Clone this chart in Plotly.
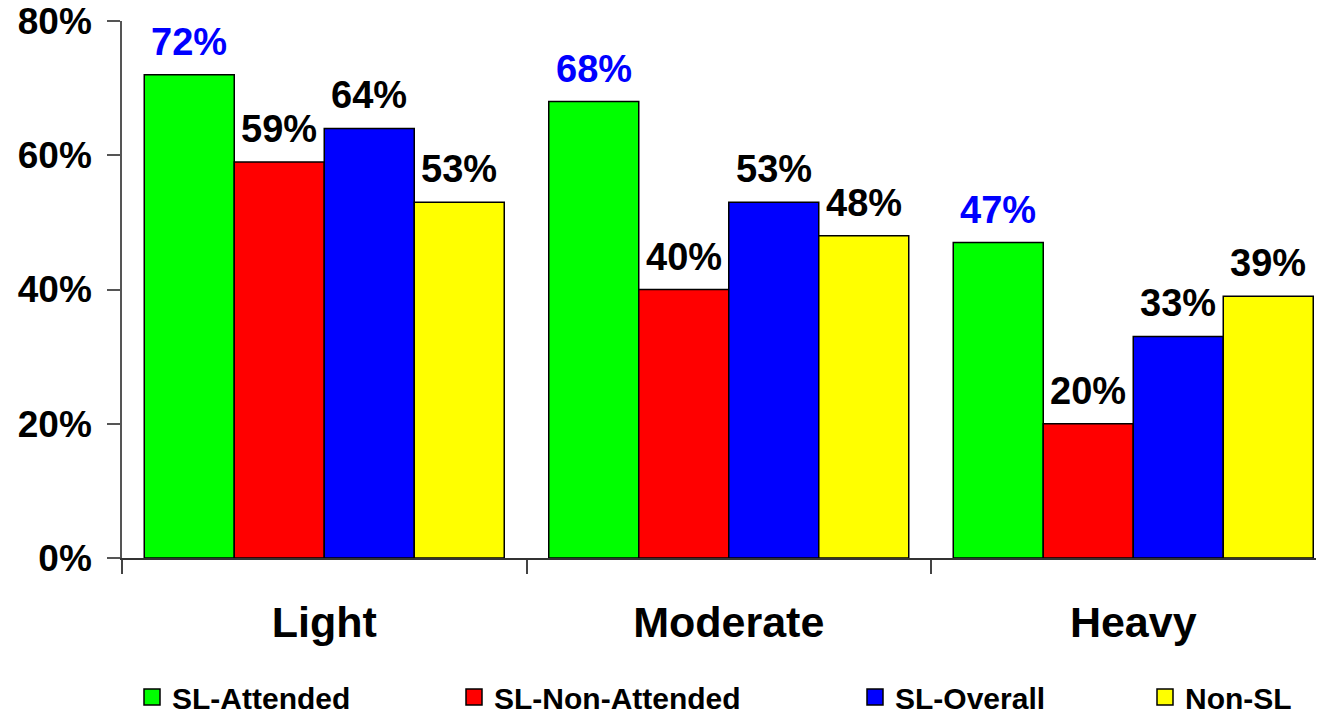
import plotly.graph_objects as go

categories = ["Light", "Moderate", "Heavy"]
series_names = ["SL-Attended", "SL-Non-Attended", "SL-Overall", "Non-SL"]
sl_attended = [72, 68, 47]
sl_non_attended = [59, 40, 20]
sl_overall = [64, 53, 33]
non_sl = [53, 48, 39]
y_tick_vals = [0, 20, 40, 60, 80]
y_tick_text = ["0%", "20%", "40%", "60%", "80%"]

series_values = [sl_attended, sl_non_attended, sl_overall, non_sl]
colors = ["#00FF00", "#FF0000", "#0000FF", "#FFFF00"]
label_colors = ["#0000FF", "#000000", "#000000", "#000000"]
legend_x_px = [140, 462, 863, 1153]

# page has an 8px body margin, so the figure is sized to fill the rest
PAGE_OFF = 8
W, H = 1324 - PAGE_OFF, 713 - PAGE_OFF
ML, MR, MT, MB = 122 - PAGE_OFF, 0, 21 - PAGE_OFF, 155
plot_w = W - ML - MR
plot_h = H - MT - MB
cat_px = 404.5
bargap = 0.11
FONT = "Liberation Sans, Arial, sans-serif"

fig = go.Figure()
n = len(series_names)
bar_w = (1 - bargap) / n
annotations = []
for k, (name, vals) in enumerate(zip(series_names, series_values)):
    fig.add_trace(go.Bar(
        x=categories, y=vals, name=name,
        marker=dict(color=colors[k], line=dict(color="#000000", width=1.5)),
        showlegend=False, hoverinfo="x+y",
    ))
    lg = "legend" if k == 0 else f"legend{k+1}"
    fig.add_trace(go.Scatter(
        x=[None], y=[None], mode="markers", name=name, legend=lg,
        marker=dict(symbol="square", size=20, color=colors[k],
                    line=dict(color="#000000", width=1.5)),
        showlegend=True,
    ))
    off = -(1 - bargap) / 2 + bar_w * (k + 0.5)
    for i, v in enumerate(vals):
        annotations.append(dict(
            x=i + off, y=v, xref="x", yref="y", text=f"{v}%",
            showarrow=False, yanchor="bottom", xanchor="center", yshift=10,
            font=dict(family=FONT, size=38, color=label_colors[k], weight="bold"),
        ))

layout_legends = {}
for k in range(n):
    key = "legend" if k == 0 else f"legend{k+1}"
    layout_legends[key] = dict(
        x=(legend_x_px[k] - 8 - PAGE_OFF - ML) / plot_w, xanchor="left",
        y=(MT + plot_h - (697 - PAGE_OFF)) / plot_h, yanchor="middle",
        orientation="h", bgcolor="rgba(0,0,0,0)", borderwidth=0,
        font=dict(family=FONT, size=30, color="#000000", weight="bold"),
        itemsizing="trace",
    )

fig.update_layout(
    width=W, height=H,
    margin=dict(l=ML, r=MR, t=MT, b=MB, autoexpand=False),
    paper_bgcolor="white", plot_bgcolor="white",
    barmode="group", bargap=bargap, bargroupgap=0,
    annotations=annotations,
    **layout_legends,
)
fig.update_xaxes(
    type="category", range=[-0.5, -0.5 + plot_w / cat_px],
    showgrid=False, zeroline=False,
    showline=True, linecolor="#333333", linewidth=1.5,
    ticks="outside", tickson="boundaries", ticklen=14, tickwidth=1.5, tickcolor="#444444",
    ticklabelstandoff=26,
    tickfont=dict(family=FONT, size=43, color="#000000", weight="bold"),
)
fig.update_yaxes(
    range=[0, 80], tickvals=y_tick_vals, ticktext=y_tick_text,
    showgrid=False, zeroline=False,
    showline=True, linecolor="#555555", linewidth=1.5,
    ticks="outside", ticklen=13, tickwidth=1.5, tickcolor="#555555",
    ticklabelstandoff=8, ticklabeloverflow="allow",
    tickfont=dict(family=FONT, size=37, color="#000000", weight="bold"),
)

fig.write_html("out.html")
